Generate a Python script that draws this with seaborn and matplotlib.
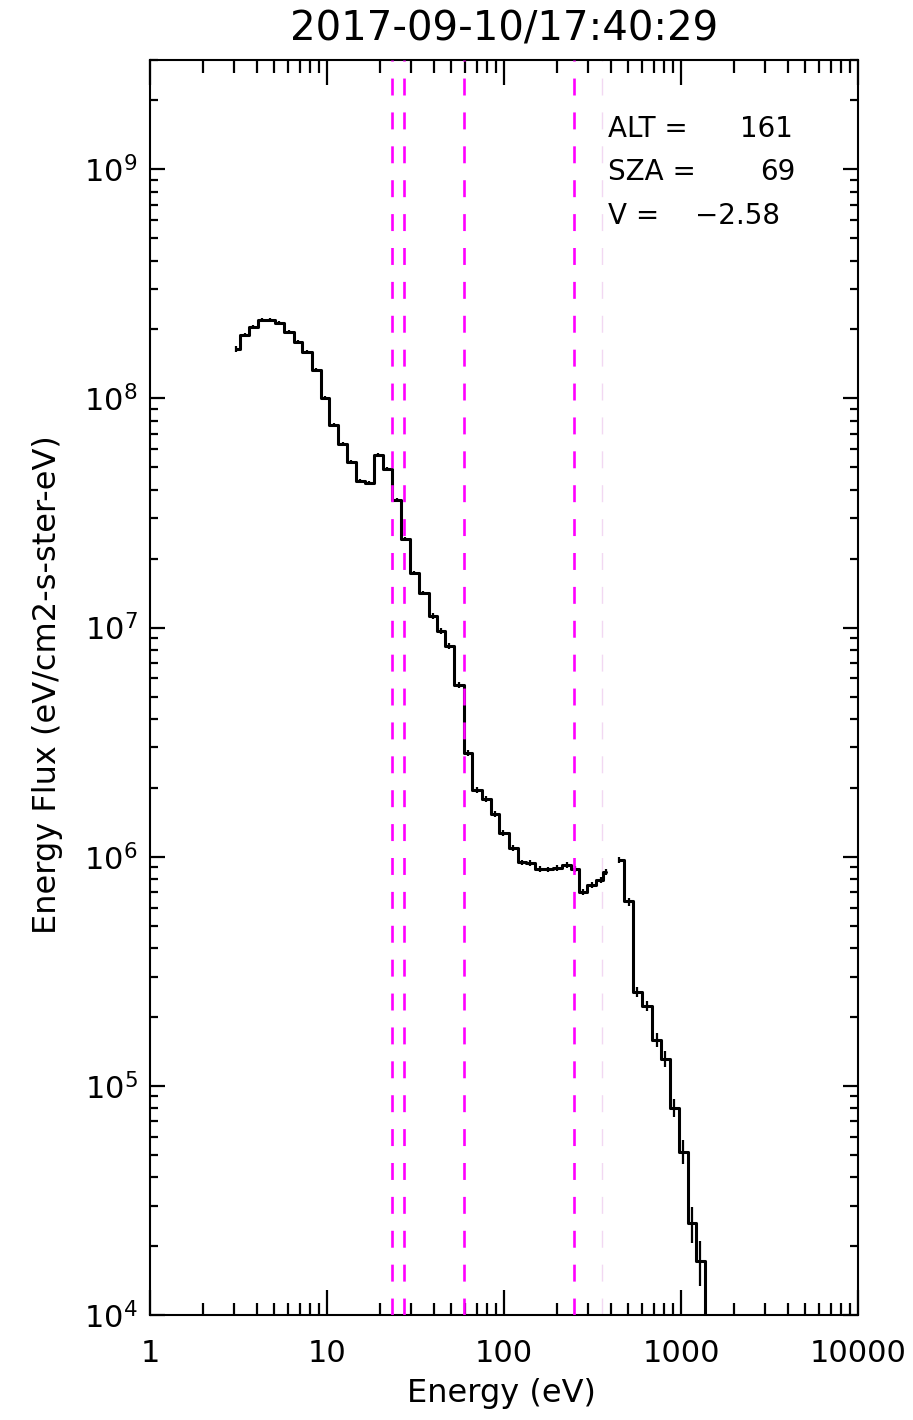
import numpy as np
import pandas as pd
import matplotlib
matplotlib.use("Agg")
import matplotlib.pyplot as plt
from matplotlib.ticker import FixedLocator, FixedFormatter, LogLocator, LogFormatterSciNotation, NullFormatter
import seaborn as sns

# ---- labels -------------------------------------------------------------
title_text = "2017-09-10/17:40:29"
x_label = "Energy (eV)"
y_label = "Energy Flux (eV/cm2-s-ster-eV)"
x_ticks = [1, 10, 100, 1000, 10000]
x_tick_labels = ["1", "10", "100", "1000", "10000"]

# ---- spectrum: sweep below the gap ---------------------------------------
energy_low = [3.05, 3.42, 3.82, 4.29, 4.78, 5.38, 6.12, 6.85, 7.68, 8.71,
              9.71, 10.9, 12.3, 13.7, 15.3, 17.3, 19.5, 21.8, 24.8, 27.7,
              30.9, 35.0, 39.9, 44.2, 49.1, 55.9, 62.6, 70.1, 79.6, 88.6,
              99.1, 113, 127, 141, 159, 178, 200, 226, 252, 279,
              313, 352, 377]
flux_low = [1.65e8, 1.90e8, 2.05e8, 2.20e8, 2.19e8, 2.14e8, 1.95e8, 1.76e8, 1.60e8, 1.33e8,
            1.00e8, 7.68e7, 6.30e7, 5.27e7, 4.35e7, 4.29e7, 5.64e7, 4.93e7, 3.60e7, 2.44e7,
            1.73e7, 1.42e7, 1.12e7, 9.63e6, 8.34e6, 5.64e6, 2.85e6, 1.96e6, 1.79e6, 1.54e6,
            1.27e6, 1.09e6, 9.44e5, 9.40e5, 8.84e5, 8.80e5, 8.90e5, 9.23e5, 8.85e5, 7.03e5,
            7.55e5, 7.93e5, 8.60e5]
rel_err_low = [0.03, 0.02, 0.02, 0.02, 0.02, 0.02, 0.02, 0.02, 0.02, 0.02,
               0.02, 0.02, 0.02, 0.02, 0.02, 0.02, 0.02, 0.02, 0.02, 0.02,
               0.02, 0.02, 0.03, 0.03, 0.03, 0.03, 0.03, 0.03, 0.03, 0.03,
               0.03, 0.03, 0.03, 0.03, 0.03, 0.03, 0.03, 0.03, 0.03, 0.03,
               0.03, 0.03, 0.03]

# ---- spectrum: sweep above the gap ---------------------------------------
energy_high = [445, 508, 564, 640, 729, 817, 911, 1030, 1150, 1280, 1440]
flux_high = [9.70e5, 6.38e5, 2.58e5, 2.24e5, 1.59e5, 1.31e5, 8.04e4, 5.17e4, 2.51e4, 1.72e4, 4.0e3]
rel_err_high = [0.03, 0.04, 0.05, 0.05, 0.07, 0.08, 0.09, 0.12, 0.18, 0.22, 0.30]

# ---- reference energies (dashed markers) ---------------------------------
marker_energies = [23.2, 27.1, 59.7, 249]
faint_marker_energy = 356

# ---- orbit info ----------------------------------------------------------
info_names = ["ALT =", "SZA =", "V ="]
info_values = ["161", "69", "\u22122.58"]

# --------------------------------------------------------------------------
df = pd.DataFrame({
    "energy": energy_low + energy_high,
    "flux": flux_low + flux_high,
    "rel_err": rel_err_low + rel_err_high,
    "segment": ["low"] * len(energy_low) + ["high"] * len(energy_high),
})

sns.set_style("ticks")
plt.rcParams["font.family"] = ["DejaVu Sans"]
plt.rcParams["lines.scale_dashes"] = False
plt.rcParams["axes.linewidth"] = 1.5
plt.rcParams["text.color"] = "black"
plt.rcParams["axes.labelcolor"] = "black"
plt.rcParams["xtick.color"] = "black"
plt.rcParams["ytick.color"] = "black"

fig = plt.figure(figsize=(9.13, 14.20), dpi=100)
ax = fig.add_axes([150 / 913, 105 / 1420, 708 / 913, 1255 / 1420])
ax.set_xscale("log")
ax.set_yscale("log")

sns.lineplot(data=df, x="energy", y="flux", units="segment", estimator=None,
             drawstyle="steps-mid", color="black", linewidth=2.2, legend=False,
             ax=ax, zorder=3)
ax.errorbar(df["energy"], df["flux"], yerr=df["flux"] * df["rel_err"],
            fmt="none", ecolor="black", elinewidth=1.6, capsize=0, zorder=3)

for e in marker_energies:
    ax.axvline(e, color="#ff00ff", linewidth=1.9, linestyle=(0, (12.2, 12.2)), zorder=4)
ax.axvline(faint_marker_energy, color="#f2d8f2", linewidth=1.0,
           linestyle=(0, (12.2, 12.2)), zorder=2)

ax.set_xlim(1, 10000)
ax.set_ylim(1e4, 3.0e9)

ax.xaxis.set_major_locator(FixedLocator(x_ticks))
ax.xaxis.set_major_formatter(FixedFormatter(x_tick_labels))
ax.xaxis.set_minor_locator(LogLocator(base=10, subs=np.arange(2, 10)))
ax.xaxis.set_minor_formatter(NullFormatter())
ax.yaxis.set_major_locator(LogLocator(base=10, numticks=12))
ax.yaxis.set_major_formatter(LogFormatterSciNotation())
ax.yaxis.set_minor_locator(LogLocator(base=10, subs=np.arange(2, 10), numticks=12))
ax.yaxis.set_minor_formatter(NullFormatter())

ax.tick_params(axis="x", which="major", direction="in", length=18, width=1.6,
               top=True, bottom=True, pad=17, labelsize=22, colors="black")
ax.tick_params(axis="x", which="minor", direction="in", length=9, width=1.6,
               top=True, bottom=True, colors="black")
ax.tick_params(axis="y", which="major", direction="in", length=10.5, width=1.6,
               left=True, right=True, pad=9, labelsize=22, colors="black")
ax.tick_params(axis="y", which="minor", direction="in", length=6, width=1.6,
               left=True, right=True, colors="black")
for side in ax.spines.values():
    side.set_color("black")
    side.set_linewidth(1.5)

ax.set_xlabel(x_label, fontsize=23, color="black")
ax.set_ylabel(y_label, fontsize=23, color="black")
ax.xaxis.set_label_coords(0.497, -0.050)
ax.xaxis.label.set_va("top")
ax.yaxis.set_label_coords(-0.123, 0.502)

fig.text(504 / 913, 1 - 30 / 1420, title_text, ha="center", va="center",
         fontsize=29, color="black")

rows_y = [0.9448, 0.9104, 0.8755]
value_x = [0.8333, 0.8616, 0.7698]
for name, val, yy, vx in zip(info_names, info_values, rows_y, value_x):
    ax.text(0.6469, yy, name, transform=ax.transAxes, ha="left", va="center",
            fontsize=20, color="black")
    ax.text(vx, yy, val, transform=ax.transAxes, ha="left", va="center",
            fontsize=20, color="black")

fig.savefig("out.png", dpi=100, facecolor="white")
